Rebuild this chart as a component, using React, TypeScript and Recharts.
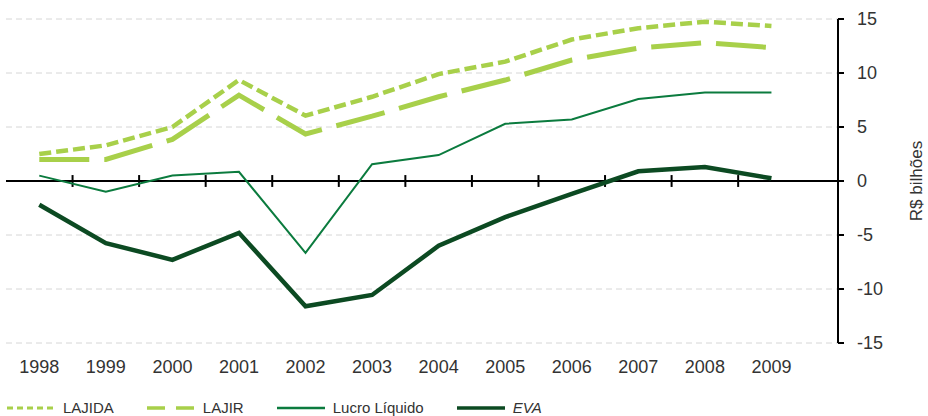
import React from 'react';
import {
  LineChart,
  Line,
  XAxis,
  YAxis,
  CartesianGrid,
  ReferenceLine,
  Legend,
} from 'recharts';

const years = ['1998', '1999', '2000', '2001', '2002', '2003', '2004', '2005', '2006', '2007', '2008', '2009'];
const lajida = [2.5, 3.3, 5.0, 9.35, 6.05, 7.8, 9.9, 11.05, 13.1, 14.15, 14.75, 14.35];
const lajir = [2.0, 2.0, 3.85, 7.95, 4.35, 6.0, 7.8, 9.35, 11.2, 12.3, 12.8, 12.35];
const lucro = [0.5, -1.0, 0.5, 0.85, -6.65, 1.55, 2.4, 5.3, 5.7, 7.6, 8.2, 8.2];
const eva = [-2.2, -5.75, -7.3, -4.8, -11.6, -10.55, -6.0, -3.35, -1.2, 0.9, 1.3, 0.25];
const yTicks = [-15, -10, -5, 0, 5, 10, 15];

const LIGHT = '#a8d04a';
const MID = '#0b7b3e';
const DARK = '#0c4a22';
const FONT = '"Liberation Sans", Arial, sans-serif';

const data = years.map((y, i) => ({
  i,
  year: y,
  lajida: lajida[i],
  lajir: lajir[i],
  lucro: lucro[i],
  eva: eva[i],
}));

const xTicks = years.map((_, i) => i);
const boundaries = years.slice(0, -1).map((_, i) => i + 0.5);

const legendItems = [
  { label: 'LAJIDA', color: LIGHT, width: 3, dash: '6 4', italic: false },
  { label: 'LAJIR', color: LIGHT, width: 3.5, dash: '18 11', italic: false },
  { label: 'Lucro Líquido', color: MID, width: 2.5, dash: undefined, italic: false },
  { label: 'EVA', color: DARK, width: 3.5, dash: undefined, italic: true },
];

const LegendContent = () => (
  <div
    style={{
      height: 30,
      display: 'flex',
      alignItems: 'center',
      paddingTop: 14,
      boxSizing: 'border-box',
      paddingLeft: 1,
      fontFamily: FONT,
      fontSize: 15,
      color: '#333',
    }}
  >
    {legendItems.map((it) => (
      <div key={it.label} style={{ display: 'flex', alignItems: 'center', marginRight: 33 }}>
        <svg width={48} height={10} style={{ marginRight: 8 }}>
          <line
            x1={0}
            y1={5}
            x2={48}
            y2={5}
            stroke={it.color}
            strokeWidth={it.width}
            strokeDasharray={it.dash}
          />
        </svg>
        <span style={{ fontStyle: it.italic ? 'italic' : 'normal', lineHeight: '16px' }}>{it.label}</span>
      </div>
    ))}
  </div>
);

const YLabel = (props: any) => {
  const vb = props.viewBox || {};
  const x = vb.x + vb.width - 12;
  const y = vb.y + vb.height / 2;
  return (
    <text
      x={x}
      y={y}
      transform={`rotate(-90 ${x} ${y})`}
      textAnchor="middle"
      dominantBaseline="central"
      fontFamily={FONT}
      fontSize={17}
      fill="#333"
    >
      R$ bilhões
    </text>
  );
};

export default function App() {
  return (
    <div style={{ position: 'absolute', left: 0, top: 0, background: '#fff' }}>
      <LineChart
        width={928}
        height={416}
        data={data}
        margin={{ top: 19, right: 0, bottom: 0, left: 6 }}
      >
        <CartesianGrid
          vertical={false}
          stroke="#d6d6d6"
          strokeDasharray="6 4"
          horizontalValues={[-15, -10, -5, 5, 10, 15]}
        />
        <XAxis
          dataKey="i"
          type="number"
          domain={[-0.5, 12]}
          ticks={xTicks}
          tickFormatter={(v: number) => years[v]}
          axisLine={false}
          tickLine={false}
          tickSize={0}
          tickMargin={17}
          height={43}
          tick={{ fontFamily: FONT, fontSize: 18, fill: '#333' }}
          interval={0}
          allowDataOverflow
        />
        <YAxis
          orientation="right"
          domain={[-15, 15]}
          ticks={yTicks}
          width={90}
          tickSize={6}
          tickMargin={13}
          axisLine={{ stroke: '#000', strokeWidth: 2 }}
          tickLine={{ stroke: '#000', strokeWidth: 2 }}
          tick={{ fontFamily: FONT, fontSize: 18, fill: '#333', textAnchor: 'start' }}
          interval={0}
          label={<YLabel />}
        />
        <ReferenceLine y={0} stroke="#000" strokeWidth={2} />
        {boundaries.map((b) => (
          <ReferenceLine
            key={b}
            segment={[
              { x: b, y: -0.55 },
              { x: b, y: 0.55 },
            ]}
            stroke="#000"
            strokeWidth={2}
          />
        ))}
        <Legend verticalAlign="bottom" align="left" content={<LegendContent />} />
        <Line
          dataKey="lajida"
          type="linear"
          stroke={LIGHT}
          strokeWidth={4.5}
          strokeDasharray="12 5"
          dot={false}
          isAnimationActive={false}
        />
        <Line
          dataKey="lajir"
          type="linear"
          stroke={LIGHT}
          strokeWidth={5}
          strokeDasharray="50 15"
          dot={false}
          isAnimationActive={false}
        />
        <Line
          dataKey="lucro"
          type="linear"
          stroke={MID}
          strokeWidth={2}
          dot={false}
          isAnimationActive={false}
        />
        <Line
          dataKey="eva"
          type="linear"
          stroke={DARK}
          strokeWidth={4.5}
          dot={false}
          isAnimationActive={false}
        />
      </LineChart>
    </div>
  );
}
